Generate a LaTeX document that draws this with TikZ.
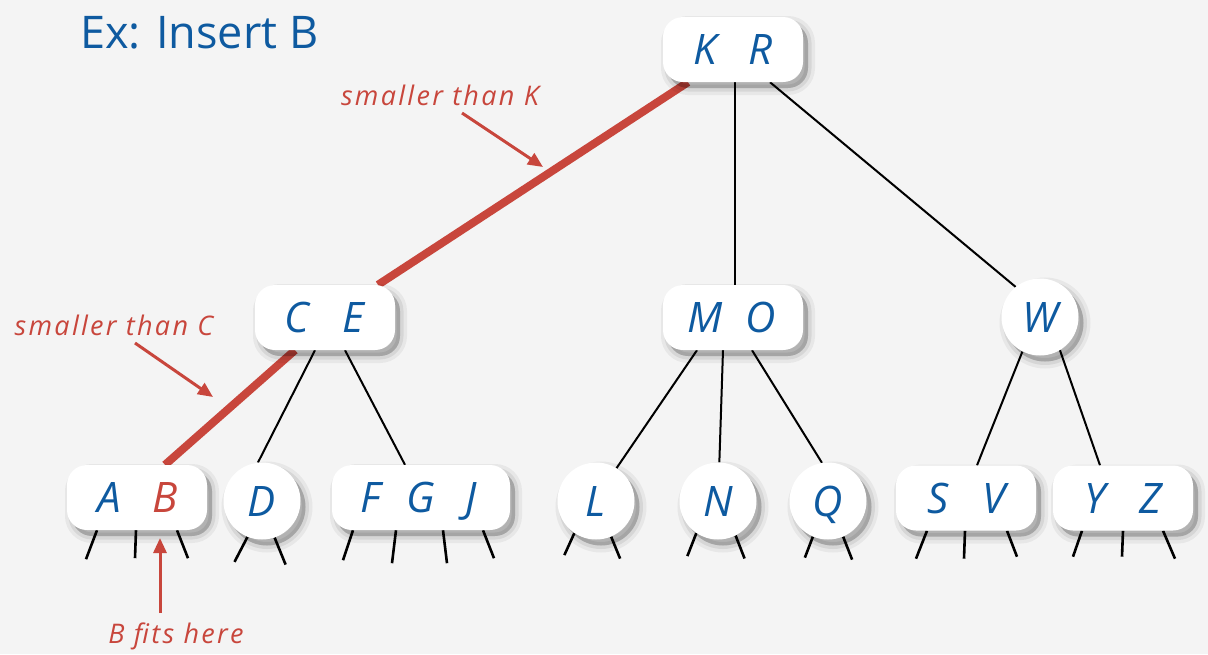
\documentclass[tikz,border=0pt]{standalone}
\usepackage{fontspec}
\setmainfont{Open Sans}
\newfontfamily\notefont{Open Sans}[LetterSpace=8.5]
\usetikzlibrary{arrows.meta}
\definecolor{bgc}{RGB}{244,244,244}
\definecolor{tblue}{RGB}{14,90,160}
\definecolor{tred}{RGB}{200,70,60}
\pgfdeclarelayer{back}
\pgfdeclarelayer{edges}
\pgfsetlayers{back,edges,main}
\newcommand{\lt}[1]{\makebox[56pt]{#1}}
\newcommand{\ltn}[1]{\makebox[50pt]{#1}}
\tikzset{
  nshadow/.style={
    preaction={fill=black, draw=black, fill opacity=0.05, draw opacity=0.05, line width=14pt,
      transform canvas={xshift=5pt,yshift=-6pt}},
    preaction={fill=black, draw=black, fill opacity=0.07, draw opacity=0.07, line width=7pt,
      transform canvas={xshift=5pt,yshift=-6pt}},
    preaction={fill=black, fill opacity=0.12,
      transform canvas={xshift=5pt,yshift=-6pt}}},
  keybox/.style={fill=white, rounded corners=20pt, minimum height=65pt, minimum width=140pt, inner sep=0pt,
    text=tblue, font=\fontsize{42}{42}\selectfont\itshape, text height=30pt, text depth=0pt, nshadow},
  keycirc/.style={circle, fill=white, minimum size=77pt, inner sep=0pt,
    text=tblue, font=\fontsize{42}{42}\selectfont\itshape, text height=30pt, text depth=0pt, nshadow},
  link/.style={line width=2pt, black},
  hot/.style={line width=8pt, tred},
  stub/.style={line width=2.6pt, black},
  note/.style={text=tred, font=\notefont\fontsize{27}{27}\selectfont\itshape, inner sep=0pt, anchor=base},
  pointer/.style={line width=3pt, tred, -{Triangle[length=15pt,width=13pt]}},
  heading/.style={text=tblue, font=\fontsize{45}{45}\selectfont, inner sep=0pt, anchor=base west}
}
\begin{document}
\begin{tikzpicture}[x=1pt,y=-1pt]
\begin{pgfonlayer}{back}
  \fill[bgc] (0,0) rectangle (1208,654);
\end{pgfonlayer}
\useasboundingbox (0,0) rectangle (1208,654);

\node[heading] (title) at (80,48) {Ex: Insert B};

% internal nodes
\node[keybox] (KR) at (733,49.5) {\lt{K}\lt{R}};
\node[keybox] (CE) at (325,317.5) {\lt{C}\lt{E}};
\node[keybox] (MO) at (733,317.5) {\lt{M}\lt{O}};
\node[keycirc] (W) at (1040,317) {W};

% leaves
\node[keybox] (AB) at (137,497.5) {\lt{A}\lt{\textcolor{tred}{B}}};
\node[keycirc] (D) at (262,501) {D};
\node[keybox, minimum width=178pt] (FGJ) at (421,497.5) {\ltn{F}\ltn{G}\ltn{J}};
\node[keycirc] (L) at (596,501) {L};
\node[keycirc] (N) at (718,501) {N};
\node[keycirc] (Q) at (828,501) {Q};
\node[keybox] (SV) at (966,498) {\lt{S}\lt{V}};
\node[keybox] (YZ) at (1123,498) {\lt{Y}\lt{Z}};

% labels
\node[note] (lblK) at (440,105) {smaller than K};
\node[note] (lblC) at (114,335) {smaller than C};
\node[note] (lblB) at (176,643) {B fits here};
\coordinate (tipK) at (543,167);
\coordinate (tipC) at (213,397);
\coordinate (tipB) at (160,538);

\begin{pgfonlayer}{edges}
  \draw[hot] ([xshift=-45pt]KR.south) -- ([xshift=53pt]CE.north);
  \draw[link] ([xshift=2pt]KR.south) -- ([xshift=2pt]MO.north);
  \draw[link] ([xshift=37pt]KR.south) -- (W.129);
  \draw[hot] ([xshift=-30pt]CE.south) -- ([xshift=28pt]AB.north);
  \draw[link] ([xshift=-10pt]CE.south) -- (D.96);
  \draw[link] ([xshift=20pt]CE.south) -- ([xshift=-16pt]FGJ.north);
  \draw[link] ([xshift=-36pt]MO.south) -- (L.58);
  \draw[link] ([xshift=-10pt]MO.south) -- (N.88);
  \draw[link] ([xshift=19pt]MO.south) -- (Q.99);
  \draw[link] (W.243) -- ([xshift=11pt]SV.north);
  \draw[link] (W.301) -- ([xshift=-23pt]YZ.north);
  % stubs
  \draw[stub] ([xshift=-40pt]AB.south) -- ++(-11,29);
  \draw[stub] ([xshift=-1pt]AB.south) -- ++(-1,28);
  \draw[stub] ([xshift=40pt]AB.south) -- ++(11,28);
  \draw[stub] (D.248) -- ++(-13,25);
  \draw[stub] (D.289) -- ++(11,27);
  \draw[stub] ([xshift=-68pt]FGJ.south) -- ++(-10,30);
  \draw[stub] ([xshift=-25pt]FGJ.south) -- ++(-4,33);
  \draw[stub] ([xshift=22pt]FGJ.south) -- ++(4,33);
  \draw[stub] ([xshift=62pt]FGJ.south) -- ++(11,28);
  \draw[stub] (L.236) -- ++(-10,22);
  \draw[stub] (L.293) -- ++(9,22);
  \draw[stub] (N.236) -- ++(-9,23);
  \draw[stub] (N.297) -- ++(9,23);
  \draw[stub] (Q.247) -- ++(-8,21);
  \draw[stub] (Q.293) -- ++(9,23);
  \draw[stub] ([xshift=-39pt]SV.south) -- ++(-11,28);
  \draw[stub] ([xshift=-1pt]SV.south) -- ++(-1,28);
  \draw[stub] ([xshift=41pt]SV.south) -- ++(10,26);
  \draw[stub] ([xshift=-41pt]YZ.south) -- ++(-9,26);
  \draw[stub] (YZ.south) -- ++(-1,26);
  \draw[stub] ([xshift=40pt]YZ.south) -- ++(12,28);
\end{pgfonlayer}

\draw[pointer] ([xshift=22pt,yshift=-8pt]lblK.base) -- (tipK);
\draw[pointer] ([xshift=21pt,yshift=-8pt]lblC.base) -- (tipC);
\draw[pointer] ([xshift=-16pt,yshift=30pt]lblB.base) -- (tipB);
\end{tikzpicture}
\end{document}
